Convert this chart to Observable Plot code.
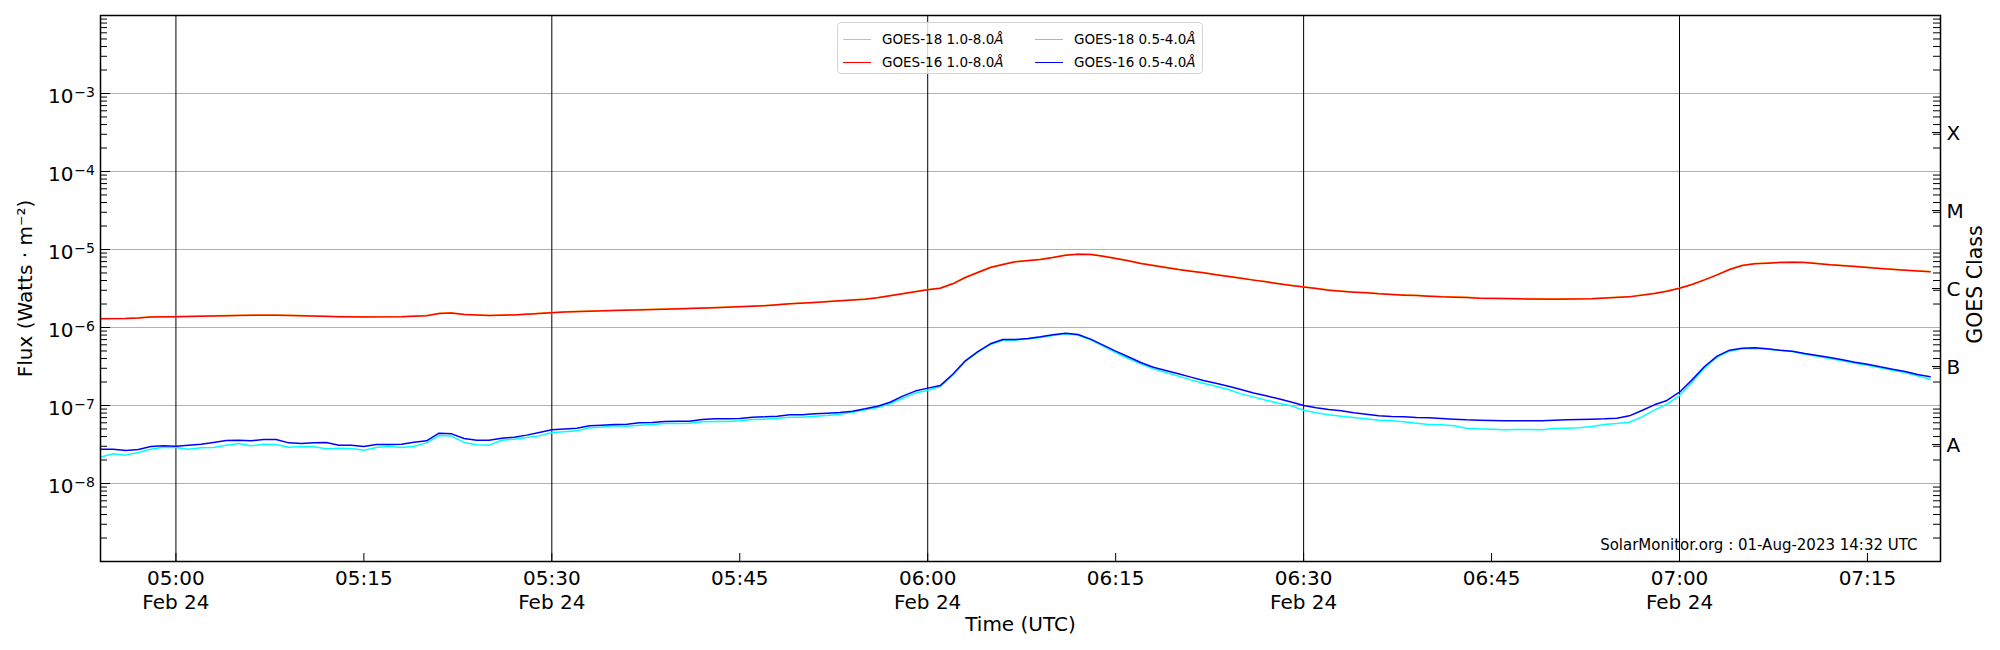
<!DOCTYPE html>
<html><head><meta charset="utf-8">
<script src="https://cdn.jsdelivr.net/npm/d3@7"></script>
<script src="https://cdn.jsdelivr.net/npm/@observablehq/plot@0.6"></script>
<style>
body{margin:0;background:#fff;font-family:"DejaVu Sans",sans-serif;}
#wrap{position:relative;width:2000px;height:650px;}
#wrap svg text{font-family:"DejaVu Sans",sans-serif;}
#legend{position:absolute;left:837px;top:22px;width:364px;height:50px;border:1px solid #d4d4d4;border-radius:4px;background:rgba(255,255,255,0.8);font-size:13.5px;z-index:2;color:#000;}
.item{position:absolute;display:flex;align-items:center;height:20px;white-space:nowrap;}
.sw{width:28px;height:0;border-top:1.5px solid;margin-right:11px;}
</style></head><body><div id="wrap"><div id="legend"></div></div>
<script>
// ---- data (flux in W m^-2), times in minutes after 05:00 UTC, 24 Feb ----
const seriesNames = ["GOES-18 1.0-8.0", "GOES-16 1.0-8.0", "GOES-18 0.5-4.0", "GOES-16 0.5-4.0"];
const seriesColors = ["#ffc400", "#ff0000", "#00ffff", "#0000ff"];

// long channel (1.0-8.0 Å), sparse sampling
const minutesLong = [-6,-4,-3,-2,0,3,5,7,8,10,
  13,15,18,20,21,22,23,25,27,29,
  31,35,39,43,47,49,51,53,55,56,
  57,58,59,60,61,62,63,64,65,66,
  67,69,70,71,72,73,74,75,76,77,
  78,79,80,81,82,83,84,85,86,87,
  88,89,90,91,92,93,94,95,96,97,
  98,99,100,101,102,103,104,107,110,113,
  116,118,119,120,121,122,123,124,125,126,
  127,128,129,130,132,134,136,138,140];
const goes16Long = [1.29e-6,1.30e-6,1.32e-6,1.36e-6,1.37e-6,1.40e-6,1.43e-6,1.44e-6,1.44e-6,1.41e-6,
  1.37e-6,1.36e-6,1.37e-6,1.41e-6,1.51e-6,1.53e-6,1.47e-6,1.42e-6,1.45e-6,1.51e-6,
  1.58e-6,1.65e-6,1.72e-6,1.79e-6,1.90e-6,2.01e-6,2.09e-6,2.20e-6,2.31e-6,2.40e-6,
  2.55e-6,2.70e-6,2.87e-6,3.04e-6,3.19e-6,3.63e-6,4.38e-6,5.07e-6,5.88e-6,6.42e-6,
  6.95e-6,7.44e-6,7.90e-6,8.46e-6,8.71e-6,8.63e-6,8.21e-6,7.66e-6,7.16e-6,6.61e-6,
  6.23e-6,5.88e-6,5.54e-6,5.27e-6,5.02e-6,4.73e-6,4.51e-6,4.29e-6,4.05e-6,3.85e-6,
  3.64e-6,3.46e-6,3.30e-6,3.16e-6,3.01e-6,2.92e-6,2.84e-6,2.78e-6,2.70e-6,2.65e-6,
  2.60e-6,2.57e-6,2.52e-6,2.47e-6,2.45e-6,2.43e-6,2.38e-6,2.33e-6,2.31e-6,2.33e-6,
  2.47e-6,2.73e-6,2.92e-6,3.19e-6,3.56e-6,4.08e-6,4.73e-6,5.54e-6,6.23e-6,6.55e-6,
  6.68e-6,6.81e-6,6.88e-6,6.81e-6,6.36e-6,6.06e-6,5.71e-6,5.43e-6,5.17e-6];
const goes18Long = [1.30e-6,1.31e-6,1.33e-6,1.37e-6,1.38e-6,1.41e-6,1.44e-6,1.45e-6,1.45e-6,1.42e-6,
  1.38e-6,1.37e-6,1.38e-6,1.42e-6,1.52e-6,1.54e-6,1.48e-6,1.43e-6,1.46e-6,1.52e-6,
  1.59e-6,1.66e-6,1.73e-6,1.80e-6,1.91e-6,2.02e-6,2.10e-6,2.21e-6,2.32e-6,2.42e-6,
  2.57e-6,2.72e-6,2.89e-6,3.06e-6,3.22e-6,3.66e-6,4.41e-6,5.11e-6,5.93e-6,6.47e-6,
  7.01e-6,7.50e-6,7.96e-6,8.52e-6,8.78e-6,8.70e-6,8.28e-6,7.73e-6,7.22e-6,6.67e-6,
  6.28e-6,5.93e-6,5.58e-6,5.31e-6,5.06e-6,4.77e-6,4.54e-6,4.32e-6,4.08e-6,3.88e-6,
  3.67e-6,3.49e-6,3.33e-6,3.19e-6,3.04e-6,2.94e-6,2.86e-6,2.80e-6,2.72e-6,2.67e-6,
  2.62e-6,2.59e-6,2.54e-6,2.49e-6,2.47e-6,2.45e-6,2.40e-6,2.35e-6,2.33e-6,2.35e-6,
  2.49e-6,2.75e-6,2.94e-6,3.21e-6,3.59e-6,4.11e-6,4.77e-6,5.58e-6,6.28e-6,6.60e-6,
  6.73e-6,6.86e-6,6.93e-6,6.86e-6,6.41e-6,6.11e-6,5.76e-6,5.47e-6,5.21e-6];

// short channel (0.5-4.0 Å), one value per minute from 04:54 to 07:20
const shortStartMinute = -6;
const goes16Short = [2.75e-8,2.75e-8,2.65e-8,2.73e-8,2.98e-8,3.04e-8,3.01e-8,3.10e-8,3.19e-8,3.36e-8,
  3.56e-8,3.59e-8,3.52e-8,3.67e-8,3.67e-8,3.32e-8,3.26e-8,3.32e-8,3.36e-8,3.10e-8,
  3.10e-8,2.98e-8,3.16e-8,3.16e-8,3.19e-8,3.39e-8,3.52e-8,4.42e-8,4.33e-8,3.78e-8,
  3.59e-8,3.59e-8,3.81e-8,3.93e-8,4.17e-8,4.51e-8,4.88e-8,5.00e-8,5.12e-8,5.49e-8,
  5.60e-8,5.71e-8,5.76e-8,5.99e-8,6.05e-8,6.23e-8,6.29e-8,6.29e-8,6.61e-8,6.75e-8,
  6.75e-8,6.81e-8,7.09e-8,7.16e-8,7.30e-8,7.59e-8,7.59e-8,7.82e-8,7.98e-8,8.13e-8,
  8.46e-8,9.06e-8,9.80e-8,1.10e-7,1.32e-7,1.53e-7,1.67e-7,1.80e-7,2.52e-7,3.74e-7,
  4.92e-7,6.18e-7,7.02e-7,7.02e-7,7.23e-7,7.59e-7,8.05e-7,8.46e-7,8.13e-7,7.09e-7,
  5.94e-7,4.97e-7,4.21e-7,3.56e-7,3.10e-7,2.81e-7,2.55e-7,2.31e-7,2.09e-7,1.93e-7,
  1.77e-7,1.60e-7,1.45e-7,1.33e-7,1.22e-7,1.11e-7,1.00e-7,9.34e-8,8.89e-8,8.54e-8,
  8.05e-8,7.74e-8,7.37e-8,7.23e-8,7.16e-8,7.02e-8,6.95e-8,6.81e-8,6.68e-8,6.55e-8,
  6.49e-8,6.42e-8,6.36e-8,6.36e-8,6.36e-8,6.36e-8,6.49e-8,6.55e-8,6.61e-8,6.68e-8,
  6.75e-8,6.88e-8,7.37e-8,8.63e-8,1.02e-7,1.16e-7,1.48e-7,2.13e-7,3.16e-7,4.29e-7,
  5.12e-7,5.43e-7,5.49e-7,5.33e-7,5.12e-7,4.97e-7,4.64e-7,4.38e-7,4.12e-7,3.85e-7,
  3.59e-7,3.39e-7,3.13e-7,2.92e-7,2.73e-7,2.50e-7,2.33e-7];
const goes18Short = [2.18e-8,2.40e-8,2.31e-8,2.49e-8,2.75e-8,2.92e-8,2.90e-8,2.75e-8,2.87e-8,2.90e-8,
  3.10e-8,3.26e-8,3.04e-8,3.19e-8,3.16e-8,2.92e-8,2.98e-8,2.95e-8,2.78e-8,2.84e-8,
  2.81e-8,2.67e-8,2.90e-8,3.01e-8,2.90e-8,3.01e-8,3.32e-8,4.12e-8,4.05e-8,3.36e-8,
  3.13e-8,3.10e-8,3.59e-8,3.70e-8,3.89e-8,4.08e-8,4.51e-8,4.60e-8,4.73e-8,5.17e-8,
  5.27e-8,5.49e-8,5.43e-8,5.60e-8,5.71e-8,5.88e-8,5.88e-8,5.94e-8,6.18e-8,6.23e-8,
  6.23e-8,6.36e-8,6.61e-8,6.68e-8,6.88e-8,7.09e-8,7.09e-8,7.30e-8,7.44e-8,7.74e-8,
  8.21e-8,8.80e-8,9.43e-8,1.05e-7,1.24e-7,1.44e-7,1.57e-7,1.75e-7,2.45e-7,3.67e-7,
  4.83e-7,6.06e-7,6.88e-7,6.88e-7,7.10e-7,7.44e-7,7.90e-7,8.30e-7,7.97e-7,6.95e-7,
  5.76e-7,4.78e-7,4.01e-7,3.42e-7,2.95e-7,2.65e-7,2.38e-7,2.13e-7,1.93e-7,1.77e-7,
  1.60e-7,1.41e-7,1.29e-7,1.17e-7,1.07e-7,9.90e-8,8.71e-8,8.05e-8,7.59e-8,7.30e-8,
  7.02e-8,6.75e-8,6.49e-8,6.36e-8,6.18e-8,5.94e-8,5.71e-8,5.65e-8,5.49e-8,5.12e-8,
  5.02e-8,4.97e-8,4.88e-8,4.92e-8,4.92e-8,4.88e-8,5.07e-8,5.12e-8,5.17e-8,5.38e-8,
  5.71e-8,5.88e-8,6.11e-8,7.16e-8,8.71e-8,1.04e-7,1.34e-7,1.99e-7,3.04e-7,4.17e-7,
  4.97e-7,5.33e-7,5.38e-7,5.27e-7,5.12e-7,4.92e-7,4.55e-7,4.29e-7,4.01e-7,3.74e-7,
  3.49e-7,3.29e-7,3.04e-7,2.84e-7,2.65e-7,2.40e-7,2.15e-7];

// axis ticks / labels
const xTickMinutes = [0,15,30,45,60,75,90,105,120,135];
const xTickLabels = ["05:00\nFeb 24","05:15","05:30\nFeb 24","05:45","06:00\nFeb 24","06:15","06:30\nFeb 24","06:45","07:00\nFeb 24","07:15"];
const verticalLineMinutes = [0,30,60,90,120];
const yTickExponents = [-8,-7,-6,-5,-4,-3];
const goesClasses = ["A","B","C","M","X"];
const goesClassFlux = [3.16e-8,3.16e-7,3.16e-6,3.16e-5,3.16e-4];
const yLabel = "Flux (Watts \u00b7 m\u207b\u00b2)";
const xLabel = "Time (UTC)";
const y2Label = "GOES Class";
const caption = "SolarMonitor.org : 01-Aug-2023 14:32 UTC";

// ---- build ----
const t0 = Date.UTC(2023, 1, 24, 5, 0, 0);
const T = m => new Date(t0 + m * 60000);
const rows18L = minutesLong.map((m, i) => ({t: T(m), v: goes18Long[i]}));
const rows16L = minutesLong.map((m, i) => ({t: T(m), v: goes16Long[i]}));
const shortRows18 = goes18Short.map((v, i) => ({t: T(shortStartMinute + i), v}));
const shortRows16 = goes16Short.map((v, i) => ({t: T(shortStartMinute + i), v}));

const decades = yTickExponents.map(e => 10 ** e);
const minorTicks = d3.range(-9, -2).flatMap(k => d3.range(2, 10).map(m => m * 10 ** k));

const W = 2000, H = 650, mL = 100, mR = 60, mT = 15, mB = 89;
const pw = W - mL - mR, ph = H - mT - mB;

const chart = Plot.plot({
  width: W, height: H,
  marginLeft: mL, marginRight: mR, marginTop: mT, marginBottom: mB,
  style: {fontFamily: "'DejaVu Sans', sans-serif", fontSize: "20px", background: "white", color: "black"},
  x: {type: "utc", domain: [T(-6.02), T(140.83)], axis: null},
  y: {type: "log", domain: [1e-9, 1e-2], axis: null},
  marks: [
    Plot.ruleY(decades, {stroke: "#b0b0b0", strokeWidth: 1}),
    Plot.ruleX(verticalLineMinutes.map(T), {stroke: "black", strokeWidth: 1}),
    Plot.line(rows18L, {x: "t", y: "v", stroke: seriesColors[0], strokeWidth: 1.5}),
    Plot.line(rows16L, {x: "t", y: "v", stroke: seriesColors[1], strokeWidth: 1.5}),
    Plot.line(shortRows18, {x: "t", y: "v", stroke: seriesColors[2], strokeWidth: 1.5}),
    Plot.line(shortRows16, {x: "t", y: "v", stroke: seriesColors[3], strokeWidth: 1.5}),
    // x ticks (inward)
    Plot.ruleX(xTickMinutes.map(T), {stroke: "black", strokeWidth: 1, insetTop: ph - 8}),
    // left ticks
    Plot.ruleY(minorTicks, {stroke: "black", strokeWidth: 1, insetRight: pw - 7}),
    Plot.ruleY(decades, {stroke: "black", strokeWidth: 1, insetRight: pw - 10}),
    // right ticks
    Plot.ruleY(minorTicks, {stroke: "black", strokeWidth: 1, insetLeft: pw - 7}),
    Plot.ruleY(goesClassFlux, {stroke: "black", strokeWidth: 1, insetLeft: pw - 8}),
    // y tick labels 10^e
    Plot.text(yTickExponents, {y: e => 10 ** e, text: () => "10", frameAnchor: "left", textAnchor: "end", lineAnchor: "bottom", dx: -27, dy: 9, fontSize: 20}),
    Plot.text(yTickExponents, {y: e => 10 ** e, text: e => "\u2212" + (-e), frameAnchor: "left", textAnchor: "end", lineAnchor: "bottom", dx: -5.5, dy: 3.5, fontSize: 14}),
    // x tick labels
    Plot.text(xTickMinutes, {x: m => T(m), text: (m, i) => xTickLabels[i], frameAnchor: "bottom", textAnchor: "middle", lineAnchor: "top", dy: 6.8, lineHeight: 1.18, fontSize: 20}),
    // GOES class labels
    Plot.text(goesClasses, {y: (c, i) => goesClassFlux[i], text: c => c, frameAnchor: "right", textAnchor: "start", lineAnchor: "middle", dx: 6, dy: 1, fontSize: 20}),
    // axis titles
    Plot.text([xLabel], {frameAnchor: "bottom", textAnchor: "middle", lineAnchor: "bottom", dy: 69, fontSize: 20}),
    Plot.text([yLabel], {frameAnchor: "left", textAnchor: "middle", rotate: -90, lineAnchor: "middle", dx: -75, fontSize: 20}),
    Plot.text([y2Label], {frameAnchor: "right", textAnchor: "middle", rotate: -90, lineAnchor: "middle", dx: 35, dy: -4, fontSize: 20.5}),
    Plot.text([caption], {frameAnchor: "bottom-right", textAnchor: "end", lineAnchor: "bottom", dx: -23, dy: -12, fontSize: 15}),
    Plot.frame({stroke: "black", strokeWidth: 1.5})
  ]
});
document.getElementById("wrap").appendChild(chart);

// legend (matplotlib-style, inside the axes)
const legend = document.getElementById("legend");
const legendPos = [[5, 6], [5, 29], [197, 6], [197, 29]];
seriesNames.forEach((name, i) => {
  const it = document.createElement("div");
  it.className = "item";
  it.style.left = legendPos[i][0] + "px";
  it.style.top = legendPos[i][1] + "px";
  it.innerHTML = `<span class="sw" style="border-color:${seriesColors[i]}"></span><span>${name}<i>\u00c5</i></span>`;
  legend.appendChild(it);
});
</script></body></html>
